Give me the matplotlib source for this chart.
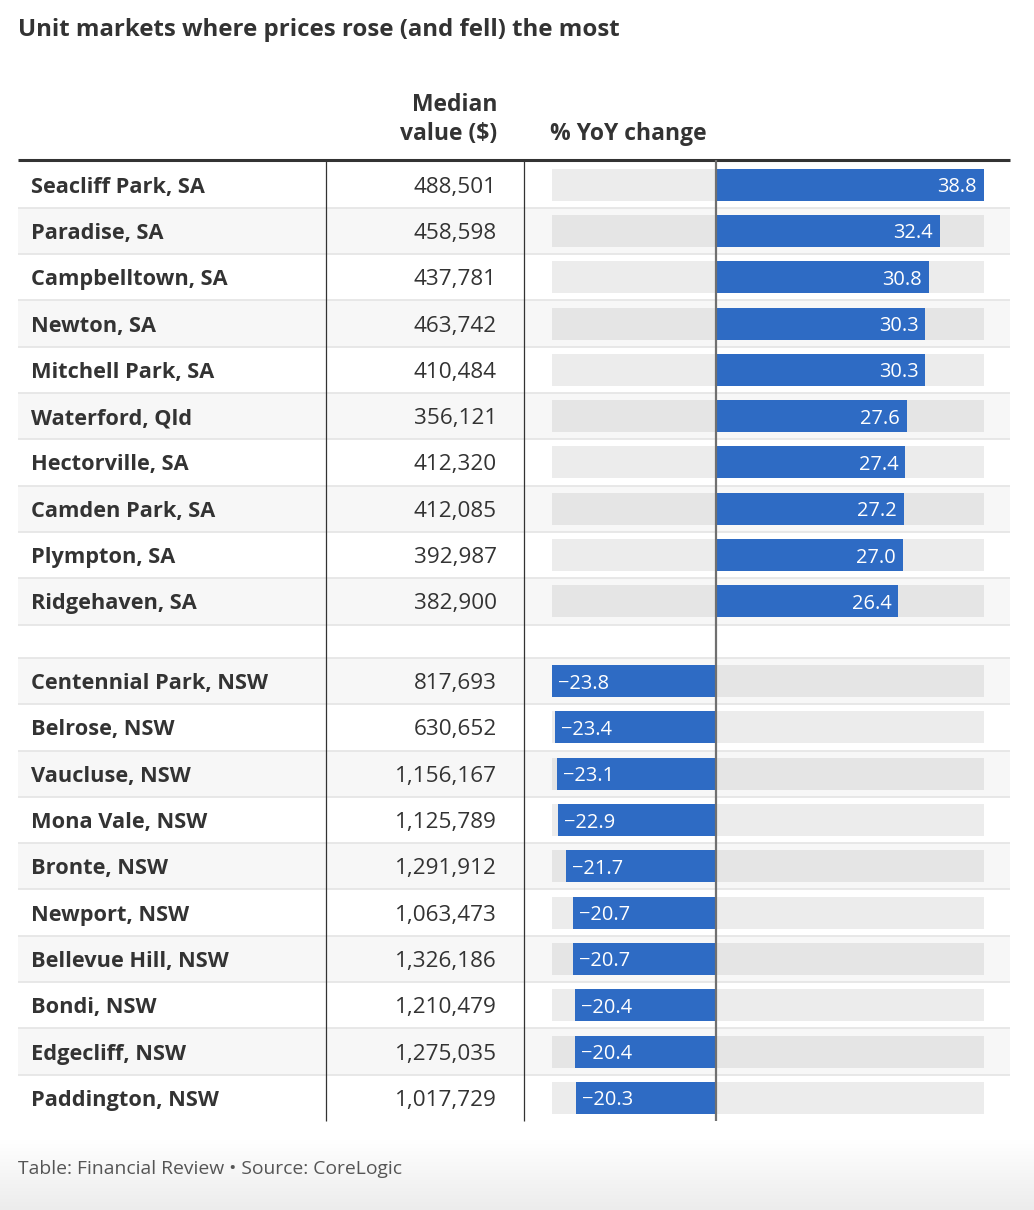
import numpy as np
import matplotlib
matplotlib.use("Agg")
import matplotlib.pyplot as plt
from matplotlib.patches import Rectangle

plt.rcParams['font.family'] = ['Open Sans', 'DejaVu Sans']

# data
names = ["Seacliff Park, SA", "Paradise, SA", "Campbelltown, SA", "Newton, SA",
         "Mitchell Park, SA", "Waterford, Qld", "Hectorville, SA", "Camden Park, SA",
         "Plympton, SA", "Ridgehaven, SA",
         "Centennial Park, NSW", "Belrose, NSW", "Vaucluse, NSW", "Mona Vale, NSW",
         "Bronte, NSW", "Newport, NSW", "Bellevue Hill, NSW", "Bondi, NSW",
         "Edgecliff, NSW", "Paddington, NSW"]
median = [488501, 458598, 437781, 463742, 410484, 356121, 412320, 412085, 392987, 382900,
          817693, 630652, 1156167, 1125789, 1291912, 1063473, 1326186, 1210479, 1275035, 1017729]
change = [38.8, 32.4, 30.8, 30.3, 30.3, 27.6, 27.4, 27.2, 27.0, 26.4,
          -23.8, -23.4, -23.1, -22.9, -21.7, -20.7, -20.7, -20.4, -20.4, -20.3]

W, H = 1034, 1210
fig = plt.figure(figsize=(W / 100, H / 100), dpi=100)
ax = fig.add_axes([0, 0, 1, 1])
ax.set_xlim(0, W)
ax.set_ylim(H, 0)
ax.axis('off')

dark = '#333333'
blue = '#2e6bc4'

# row geometry (pixels)
top = 161.5
row_h = 46.3
gap = 33.5
n_top = 10
ys = []
bounds = []
for i in range(len(names)):
    y0 = top + row_h * i + (gap if i >= n_top else 0)
    ys.append(y0 + row_h / 2)
    bounds.append((y0, y0 + row_h))
bottom = bounds[-1][1]

# bottom shade
grad = np.linspace(0, 1, 100).reshape(-1, 1)
ax.imshow(grad, extent=[0, W, H, 1140], cmap=matplotlib.colors.LinearSegmentedColormap.from_list('g', ['#ffffff', '#ececec']),
          aspect='auto', zorder=0)

# row bands and separators
for i, (y0, y1) in enumerate(bounds):
    k = i + (1 if i >= n_top else 0)
    if k % 2 == 1:
        ax.add_patch(Rectangle((18, y0), 992, y1 - y0, color='#f7f7f7', lw=0, zorder=1))
seps = [b[1] for b in bounds[:-1]] + [bounds[n_top][0]]
ax.hlines(seps, 18, 1010, color='#e4e4e4', lw=1.2, zorder=2)
ax.hlines(160, 18, 1010, color=dark, lw=2.2, zorder=3)
ax.vlines([326, 524], 160, bottom, color=dark, lw=0.9, zorder=3)

# text
ax.text(18, 27, "Unit markets where prices rose (and fell) the most", fontsize=17.3,
        fontweight='bold', color=dark, va='center_baseline', ha='left')
ax.text(497, 102, "Median", fontsize=16.5, fontweight='bold', color=dark, va='center_baseline', ha='right')
ax.text(497, 131, "value ($)", fontsize=16.5, fontweight='bold', color=dark, va='center_baseline', ha='right')
ax.text(550, 131, "% YoY change", fontsize=16.5, fontweight='bold', color=dark, va='center_baseline', ha='left')
for y, nm, m in zip(ys, names, median):
    ax.text(31, y, nm, fontsize=15.7, fontweight='bold', color=dark, va='center_baseline', ha='left', zorder=4)
    ax.text(497, y, f"{m:,}", fontsize=16.2, color=dark, va='center_baseline', ha='right', zorder=4)
ax.text(18, 1167, "Table: Financial Review \u2022 Source: CoreLogic", fontsize=13.9,
        color='#555555', va='center_baseline', ha='left')

# bars
bx = fig.add_axes([552 / W, 0, 432 / W, 1])
bx.set_xlim(min(change), max(change))
bx.set_ylim(H, 0)
bx.axis('off')
bx.patch.set_alpha(0)
lo, hi = min(change), max(change)
bg = ['#e5e5e5' if (i + (1 if i >= n_top else 0)) % 2 else '#ececec' for i in range(len(names))]
bx.barh(ys, hi - lo, left=lo, height=32, color=bg, zorder=1)
bx.barh(ys, change, height=32, color=blue, zorder=2)
bx.vlines(0, 160, bottom, color='#707070', lw=1.6, zorder=3)
for y, v in zip(ys, change):
    txt = f"{v:.1f}".replace('-', '\u2212')
    if v >= 0:
        bx.annotate(txt, (v, y), xytext=(-7, 0), textcoords='offset pixels', ha='right',
                    va='center_baseline', color='white', fontsize=14.4, zorder=4)
    else:
        bx.annotate(txt, (v, y), xytext=(6, 0), textcoords='offset pixels', ha='left',
                    va='center_baseline', color='white', fontsize=14.4, zorder=4)

fig.savefig('out.png', dpi=100)
